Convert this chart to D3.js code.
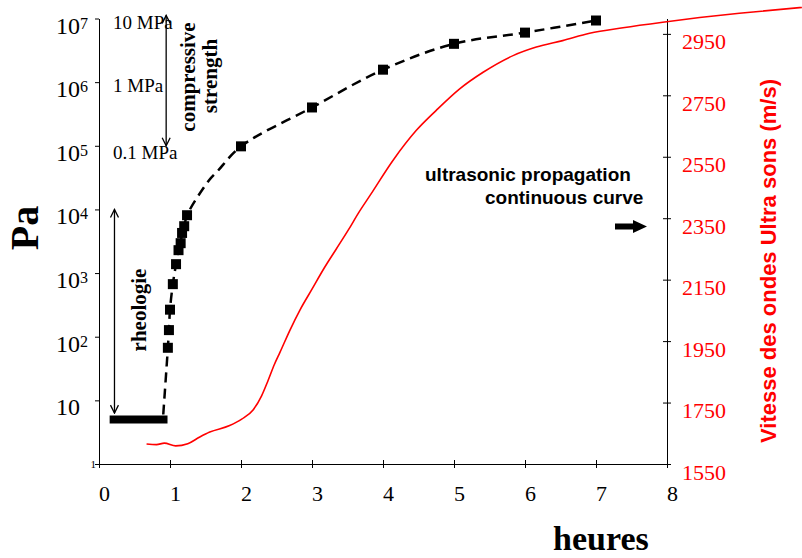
<!DOCTYPE html>
<html>
<head>
<meta charset="utf-8">
<script src="https://cdn.jsdelivr.net/npm/d3@7"></script>
<style>
body { margin: 0; background: #fff; }
</style>
</head>
<body>
<script>
// measured points (rheology then compressive strength), in Pa
const markHours = [0.97, 0.985, 1.0, 1.04, 1.085, 1.12, 1.15, 1.17, 1.2, 1.24, 2, 3, 4, 5, 6, 7];
const markPa = [67, 127, 266, 670, 1380, 2290, 2950, 4270, 5450, 8110, 98000, 400000, 1570000, 4000000, 6000000, 9300000];
// points the dashed curve goes through with no marker
const bendHours = [0.905, 1.55, 1.67];
const bendPa = [6, 28800, 40000];
// rheometer plateau (thick bar)
const plateauHours = [0.15, 0.965];
const plateauPa = [5, 5];
// ultrasonic velocity, m/s
const usHours = [0.67, 0.81, 0.92, 1.08, 1.25, 1.42, 1.56, 1.84, 2.01, 2.17, 2.29, 2.38, 2.47, 2.55, 2.69, 2.83, 3.0, 3.17, 3.34, 3.51, 3.66, 3.82, 4.14, 4.47, 4.75, 5.08, 5.41, 5.84, 6.16, 6.53, 6.91, 7.38, 7.94, 8.46, 9.02, 9.9];
const usSpeed = [1615, 1613, 1618, 1609, 1616, 1638, 1654, 1675, 1696, 1726, 1772, 1821, 1874, 1914, 1986, 2051, 2119, 2187, 2249, 2311, 2369, 2425, 2538, 2636, 2701, 2771, 2825, 2880, 2907, 2928, 2952, 2970, 2988, 3003, 3017, 3036];
// ticks
const hourTicks = [0, 1, 2, 3, 4, 5, 6, 7, 8];
const decadeTicks = [1, 10, 100, 1000, 1e4, 1e5, 1e6, 1e7];
const speedTicks = [1550, 1750, 1950, 2150, 2350, 2550, 2750, 2950];
const mpaLabels = ["10 MPa", "1 MPa", "0.1 MPa"];
const mpaValues = [1e7, 1e6, 1e5];

var serif = "'Liberation Serif', 'Times New Roman', serif"
var sans = "'Liberation Sans', Arial, sans-serif"

var svg = d3.select("body").append("svg")
  .attr("width", 802)
  .attr("height", 558)

var x = d3.scaleLinear().domain([0, 8]).range([99, 667])
var y = d3.scaleLog().domain([1, 1e7]).range([464, 18.5])
var y2 = d3.scaleLinear().domain([1550, 3000]).range([464, 18.5])

// arrow heads
var defs = svg.append("defs")
defs.append("marker")
  .attr("id", "chev")
  .attr("viewBox", "0 0 10 10")
  .attr("refX", 9).attr("refY", 5)
  .attr("markerWidth", 10).attr("markerHeight", 10)
  .attr("markerUnits", "userSpaceOnUse")
  .attr("orient", "auto-start-reverse")
  .append("path")
  .attr("d", "M1,1 L9,5 L1,9")
  .attr("fill", "none")
  .attr("stroke", "black")
  .attr("stroke-width", 1.3)

// x axis
var xAxis = svg.append("g")
  .attr("transform", "translate(0,464)")
  .call(d3.axisBottom(x).tickValues(hourTicks).tickSize(4).tickSizeOuter(0).tickFormat(d3.format("d")))
xAxis.attr("font-family", serif).attr("font-size", 22)
xAxis.selectAll(".tick line").attr("y1", -4).attr("y2", 4)
xAxis.selectAll(".tick text").attr("y", 37).attr("dy", 0).attr("dx", 5).attr("fill", "black")

// left axis (log)
var yAxis = svg.append("g")
  .attr("transform", "translate(99,0)")
  .call(d3.axisLeft(y).tickValues(decadeTicks).tickSize(4).tickSizeOuter(0).tickFormat(""))

decadeTicks.forEach(function (d) {
  var e = Math.round(Math.log10(d))
  if (e == 0) {
    svg.append("text").attr("x", 96).attr("y", y(d) + 4)
      .attr("text-anchor", "end").attr("font-family", serif).attr("font-size", 11)
      .text("1")
    return
  }
  svg.append("text").attr("x", 80).attr("y", y(d) + 15)
    .attr("text-anchor", "end").attr("font-family", serif).attr("font-size", 24)
    .text("10")
  if (e > 1) {
    svg.append("text").attr("x", 80).attr("y", y(d) + 10)
      .attr("font-family", serif).attr("font-size", 16)
      .text(e)
  }
})

// right axis (velocity)
var rAxis = svg.append("g")
  .attr("transform", "translate(667,0)")
  .call(d3.axisRight(y2).tickValues(speedTicks).tickSize(4).tickSizeOuter(0).tickFormat(d3.format("d")))
rAxis.attr("font-family", serif).attr("font-size", 22)
rAxis.selectAll(".tick line").attr("x1", -4)
rAxis.selectAll(".tick text").attr("x", 15).attr("y", 15).attr("dy", 0).attr("fill", "red")

// ultrasonic curve
var usLine = d3.line()
  .x(function (d, i) { return x(usHours[i]) })
  .y(function (d, i) { return y2(usSpeed[i]) })
  .curve(d3.curveMonotoneX)
svg.append("path")
  .attr("d", usLine(usSpeed))
  .attr("fill", "none")
  .attr("stroke", "red")
  .attr("stroke-width", 1.6)

// plateau bar
svg.append("line")
  .attr("x1", x(plateauHours[0])).attr("x2", x(plateauHours[1]))
  .attr("y1", y(plateauPa[0])).attr("y2", y(plateauPa[1]))
  .attr("stroke", "black")
  .attr("stroke-width", 8)

// dashed curve through markers
var pts = markHours.map(function (h, i) { return [h, markPa[i]] })
  .concat(bendHours.map(function (h, i) { return [h, bendPa[i]] }))
  .sort(function (a, b) { return a[0] - b[0] })
var paLine = d3.line()
  .x(function (d) { return x(d[0]) })
  .y(function (d) { return y(d[1]) })
  .curve(d3.curveCatmullRom.alpha(0.5))
svg.append("path")
  .attr("d", paLine(pts))
  .attr("fill", "none")
  .attr("stroke", "black")
  .attr("stroke-width", 2.5)
  .attr("stroke-dasharray", "10,6")

svg.selectAll("rect.mark")
  .data(markPa)
  .enter().append("rect")
  .attr("class", "mark")
  .attr("x", function (d, i) { return x(markHours[i]) - 5 })
  .attr("y", function (d) { return y(d) - 5 })
  .attr("width", 10)
  .attr("height", 10)
  .attr("fill", "black")

// compressive strength annotation
svg.append("line")
  .attr("x1", x(0.946)).attr("x2", x(0.946))
  .attr("y1", y(1.12e7)).attr("y2", y(1e5))
  .attr("stroke", "black").attr("stroke-width", 1.3)
  .attr("marker-start", "url(#chev)").attr("marker-end", "url(#chev)")
var mpaDy = [10, 10, 13]
mpaLabels.forEach(function (t, i) {
  svg.append("text").attr("x", 113).attr("y", y(mpaValues[i]) + mpaDy[i])
    .attr("font-family", serif).attr("font-size", 19)
    .text(t)
})
svg.append("text")
  .attr("transform", "translate(195,77) rotate(-90)")
  .attr("text-anchor", "middle").attr("font-family", serif).attr("font-size", 21).attr("font-weight", "bold")
  .text("compressive")
svg.append("text")
  .attr("transform", "translate(217,76) rotate(-90)")
  .attr("text-anchor", "middle").attr("font-family", serif).attr("font-size", 21).attr("font-weight", "bold")
  .text("strength")

// rheology annotation
svg.append("line")
  .attr("x1", x(0.218)).attr("x2", x(0.218))
  .attr("y1", y(1e4)).attr("y2", y(6.3))
  .attr("stroke", "black").attr("stroke-width", 1.3)
  .attr("marker-start", "url(#chev)").attr("marker-end", "url(#chev)")
svg.append("text")
  .attr("transform", "translate(146,310) rotate(-90)")
  .attr("text-anchor", "middle").attr("font-family", serif).attr("font-size", 21).attr("font-weight", "bold")
  .text("rheologie")

// ultrasonic note + arrow
svg.append("text").attr("x", 425).attr("y", 181)
  .attr("font-family", sans).attr("font-size", 19).attr("font-weight", "bold")
  .text("ultrasonic propagation")
svg.append("text").attr("x", 485).attr("y", 204)
  .attr("font-family", sans).attr("font-size", 19).attr("font-weight", "bold")
  .text("continuous curve")
svg.append("path")
  .attr("d", "M615,223.5 H633 V220 L647,226.5 L633,233 V229.5 H615 Z")
  .attr("fill", "black")

// axis titles
svg.append("text")
  .attr("transform", "translate(38,228) rotate(-90)")
  .attr("text-anchor", "middle").attr("font-family", serif).attr("font-size", 40).attr("font-weight", "bold")
  .text("Pa")
svg.append("text").attr("x", 553).attr("y", 550)
  .attr("font-family", serif).attr("font-size", 34).attr("font-weight", "bold")
  .text("heures")
svg.append("text")
  .attr("transform", "translate(776,261) rotate(-90)")
  .attr("text-anchor", "middle").attr("font-family", sans).attr("font-size", 22).attr("font-weight", "bold")
  .attr("fill", "red")
  .text("Vitesse des ondes Ultra sons (m/s)")
</script>
</body>
</html>
